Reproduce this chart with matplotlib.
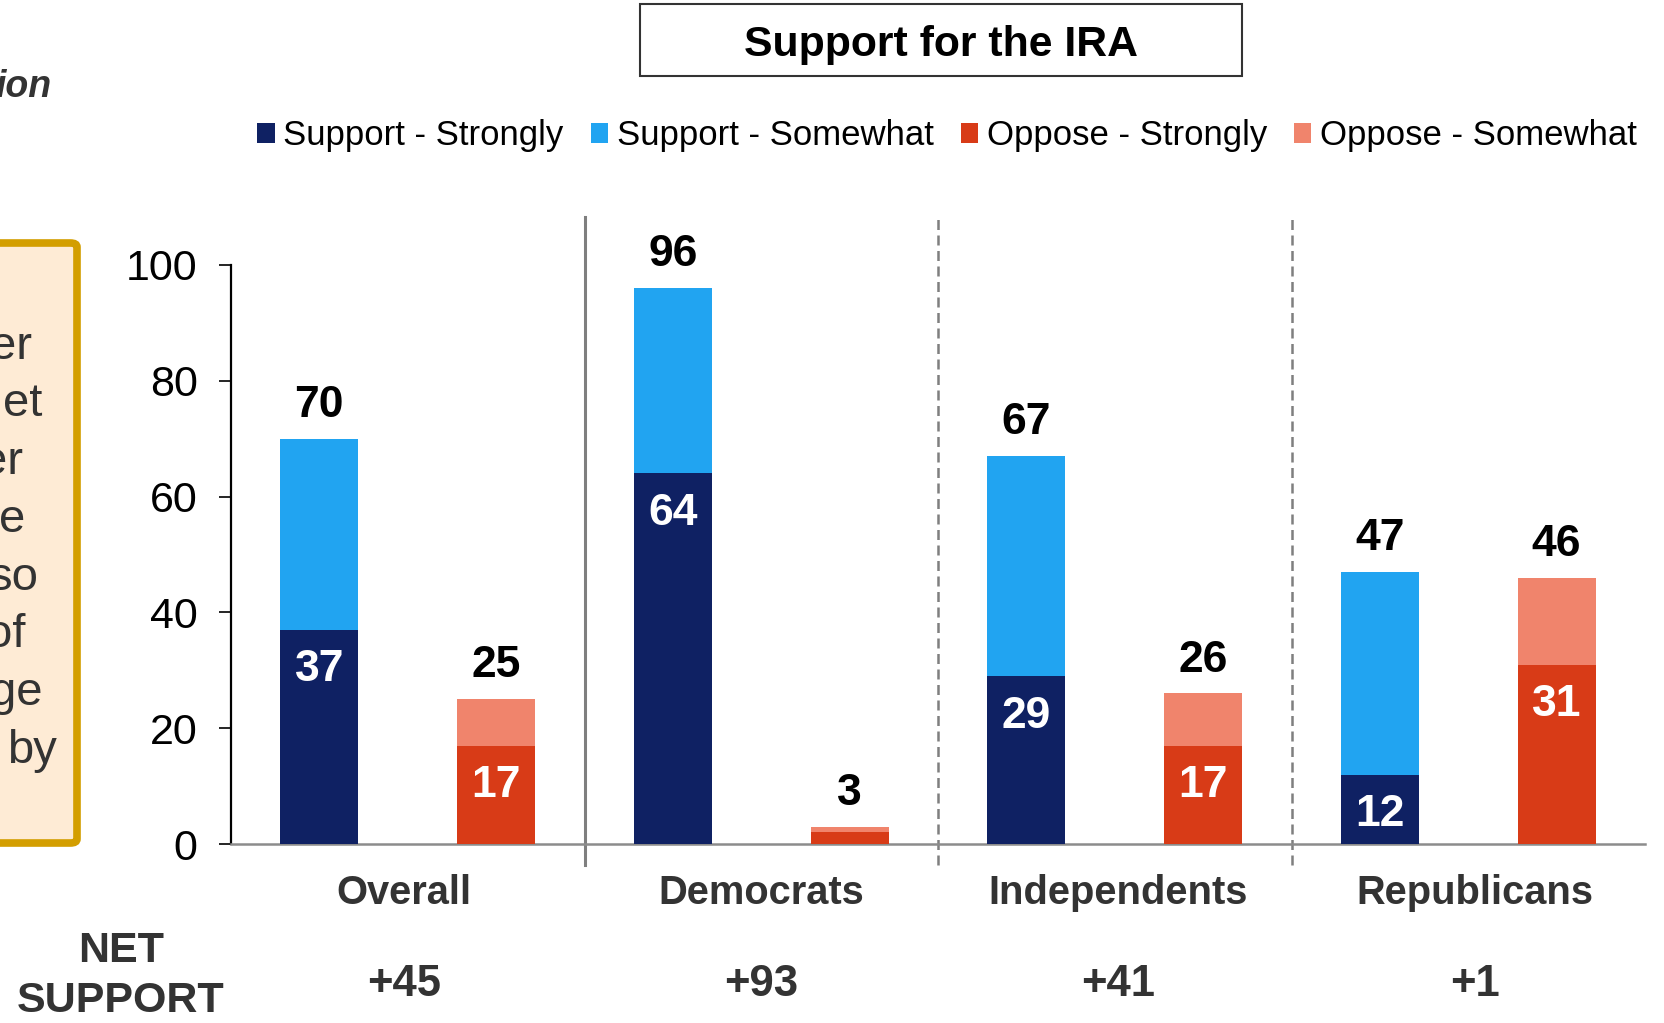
import matplotlib
matplotlib.use("Agg")
import matplotlib.pyplot as plt
from matplotlib.patches import Patch, Rectangle, FancyBboxPatch

plt.rcParams['font.family'] = ['Liberation Sans', 'DejaVu Sans']

# Data
groups = ['Overall', 'Democrats', 'Independents', 'Republicans']
support_strongly = [37, 64, 29, 12]
support_somewhat = [33, 32, 38, 35]
oppose_strongly = [17, 2, 17, 31]
oppose_somewhat = [8, 1, 9, 15]
net_support = ['+45', '+93', '+41', '+1']
series_labels = ['Support - Strongly', 'Support - Somewhat', 'Oppose - Strongly', 'Oppose - Somewhat']
colors = ['#0F2163', '#21A4F1', '#D83B17', '#F0846C']

# Fragments of the slide's side text (cut off at the left edge)
side_fragments = ['er', 'et', 'er', 'e', 'so', 'of', 'ge', 'by']
side_right_px = [32, 42, 23, 25, 39, 25, 42, 57]

W, H = 1664, 1023
fig = plt.figure(figsize=(W / 100, H / 100), dpi=100)
ax = fig.add_axes([231 / W, 1 - 844 / H, 1414 / W, (844 - 265) / H])

bar_w = 0.44
x_sup = [2 * i + 0.5 for i in range(len(groups))]
x_opp = [2 * i + 1.5 for i in range(len(groups))]

ax.bar(x_sup, support_strongly, bar_w, color=colors[0], zorder=3)
ax.bar(x_sup, support_somewhat, bar_w, bottom=support_strongly, color=colors[1], zorder=3)
ax.bar(x_opp, oppose_strongly, bar_w, color=colors[2], zorder=3)
ax.bar(x_opp, oppose_somewhat, bar_w, bottom=oppose_strongly, color=colors[3], zorder=3)

# Totals above bars, strongly values inside bars
for xs, strong, some in [(x_sup, support_strongly, support_somewhat),
                         (x_opp, oppose_strongly, oppose_somewhat)]:
    for x, s, m in zip(xs, strong, some):
        ax.annotate(f'{s + m}', (x, s + m), xytext=(0, 24), textcoords='offset points',
                    ha='center', va='center', fontsize=32, fontweight='bold', color='black')
        if s >= 5:
            ax.annotate(f'{s}', (x, s), xytext=(0, -28.8), textcoords='offset points',
                        ha='center', va='center', fontsize=32, fontweight='bold', color='white')

ax.set_xlim(0, 2 * len(groups))
ax.set_ylim(0, 100)
ax.set_yticks(range(0, 101, 20))
ax.set_xticks([])
ax.tick_params(axis='y', length=8.6, width=1.2, pad=15.5, labelsize=31, colors='black')
for s in ['top', 'right']:
    ax.spines[s].set_visible(False)
ax.spines['left'].set_linewidth(1.6)
ax.spines['left'].set_color('black')
ax.spines['bottom'].set_linewidth(1.8)
ax.spines['bottom'].set_color('#8C8C8C')

# Group separators
ax.axvline(2, ymin=-0.036, ymax=1.083, color='#7F7F7F', lw=2.2, clip_on=False)
for xv in [4, 6]:
    ax.axvline(xv, ymin=-0.036, ymax=1.083, color='#7F7F7F', lw=1.8,
               linestyle=(0, (4, 2.2)), clip_on=False)

# Group names and net support (label row is spread slightly wider than the bars)
for i, (g, n) in enumerate(zip(groups, net_support)):
    xc = 1 + 2.02 * i - 0.02
    ax.text(xc, -8.5, g, ha='center', va='center', fontsize=28.7,
            fontweight='bold', color='#333333', clip_on=False)
    ax.text(xc, -24.3, n, ha='center', va='center', fontsize=31.4,
            fontweight='bold', color='#333333', clip_on=False)
fig.text(121 / W, 1 - 976 / H, 'NET\nSUPPORT', ha='center', va='center', fontsize=31,
         fontweight='bold', color='#333333', linespacing=1.3)

# Title box
fig.add_artist(Rectangle((640 / W, 1 - 76 / H), 602 / W, 72 / H, transform=fig.transFigure,
                         facecolor='white', edgecolor='#333333', lw=1.5))
fig.text(941 / W, 1 - 45 / H, 'Support for the IRA', ha='center', va='center',
         fontsize=30.8, fontweight='bold', color='black')

# Legend
handles = [Patch(facecolor=c, edgecolor='none') for c in colors]
fig.legend(handles, series_labels, loc='center', bbox_to_anchor=(947 / W, 1 - 136 / H),
           ncol=4, frameon=False, fontsize=25, handlelength=0.5, handleheight=0.5,
           handletextpad=0.25, columnspacing=0.78, borderaxespad=0, borderpad=0)

# Side callout box (cut off at left)
fig.add_artist(FancyBboxPatch((-60 / W, 1 - 843 / H), 137 / W, 600 / H,
                              boxstyle='round,pad=0,rounding_size=0.004',
                              transform=fig.transFigure, facecolor='#FEEBD5',
                              edgecolor='#D39E00', lw=5.5))
for k, (frag, rx) in enumerate(zip(side_fragments, side_right_px)):
    fig.text(rx / W, 1 - (358.7 + k * 57.73) / H, frag, ha='right', va='baseline',
             fontsize=34, color='#333333')

fig.text(51 / W, 1 - 97 / H, 'ion', ha='right', va='baseline', fontsize=27,
         fontweight='bold', fontstyle='italic', color='#333333')

fig.savefig('out.png', dpi=100)
